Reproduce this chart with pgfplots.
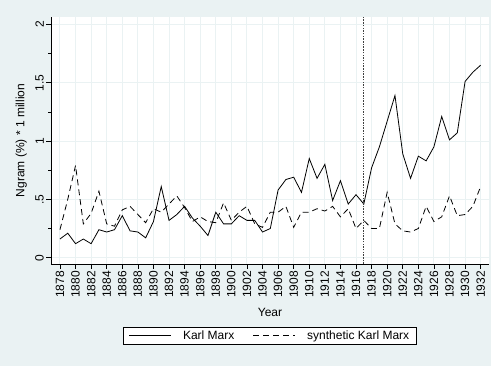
\documentclass[border=0pt]{standalone}
\usepackage{pgfplots}
\pgfplotsset{compat=1.18}
\usepackage{fontspec}
\setmainfont{Liberation Sans}
\definecolor{bgc}{RGB}{234,242,243}
\definecolor{gridc}{RGB}{234,242,243}
\newcommand{\fz}{\fontsize{12}{14}\selectfont}
\begin{document}
\begin{tikzpicture}[font=\fz]
\fill[bgc] (0,0) rectangle (491pt,366pt);
\useasboundingbox (0,0) rectangle (491pt,366pt);
\begin{axis}[
  at={(51pt,102pt)}, anchor=south west,
  scale only axis, width=438pt, height=247pt,
  xmin=1876.85, xmax=1933.07,
  ymin=-0.054, ymax=2.063,
  axis x line*=bottom, axis y line*=left,
  axis line style={-, black, line width=0.7pt},
  axis background/.style={fill=white},
  xtick={1878,1880,...,1932},
  minor x tick num=1,
  ytick={0,0.5,1,1.5,2},
  yticklabels={{\fz 0},{\fz .5},{\fz 1},{\fz 1.5},{\fz 2}},
  minor y tick num=1,
  tick align=outside,
  major tick length=5pt, minor tick length=3pt,
  tick style={black, line width=0.6pt},
  grid=major,
  major grid style={draw=gridc, line width=1pt},
  xticklabel={\fz\pgfmathprintnumber[1000 sep={},assume math mode=true]{\tick}},
  x tick label style={rotate=90, anchor=east, inner sep=2pt},
  y tick label style={rotate=90, anchor=south, inner sep=2pt},
  xlabel={\fz Year},
  ylabel={\fz Ngram (\%) * 1 million},
  xlabel style={yshift=-5pt},
  ylabel style={yshift=3pt},
  legend style={at={(0.5,-0.255)}, anchor=north, legend columns=2,
    draw=black, line width=0.5pt, fill=white, font=\fz,
    inner xsep=5.5pt, inner ysep=1.5pt,
    /tikz/every odd column/.append style={column sep=9.5pt},
    /tikz/every even column/.append style={column sep=16.5pt}},
  legend cell align=left,
  legend image code/.code={\draw[#1] (0pt,0pt) -- (42pt,0pt);},
]
\addplot[black, line width=0.8pt] table {
x y
1878 0.16
1879 0.21
1880 0.12
1881 0.16
1882 0.12
1883 0.24
1884 0.22
1885 0.24
1886 0.36
1887 0.23
1888 0.22
1889 0.17
1890 0.31
1891 0.61
1892 0.32
1893 0.37
1894 0.44
1895 0.34
1896 0.27
1897 0.19
1898 0.39
1899 0.29
1900 0.29
1901 0.36
1902 0.32
1903 0.32
1904 0.22
1905 0.25
1906 0.58
1907 0.67
1908 0.69
1909 0.56
1910 0.85
1911 0.68
1912 0.80
1913 0.49
1914 0.66
1915 0.46
1916 0.54
1917 0.46
1918 0.77
1919 0.95
1920 1.17
1921 1.39
1922 0.89
1923 0.68
1924 0.87
1925 0.83
1926 0.95
1927 1.21
1928 1.01
1929 1.07
1930 1.51
1931 1.59
1932 1.65
};
\addlegendentry{Karl Marx}
\addplot[black, line width=0.8pt, dash pattern=on 6pt off 4pt] table {
x y
1878 0.24
1879 0.50
1880 0.79
1881 0.29
1882 0.38
1883 0.57
1884 0.29
1885 0.27
1886 0.41
1887 0.44
1888 0.37
1889 0.30
1890 0.42
1891 0.39
1892 0.46
1893 0.53
1894 0.43
1895 0.31
1896 0.35
1897 0.31
1898 0.30
1899 0.47
1900 0.32
1901 0.39
1902 0.44
1903 0.29
1904 0.26
1905 0.39
1906 0.39
1907 0.44
1908 0.26
1909 0.39
1910 0.39
1911 0.42
1912 0.40
1913 0.44
1914 0.35
1915 0.42
1916 0.25
1917 0.32
1918 0.25
1919 0.25
1920 0.56
1921 0.29
1922 0.23
1923 0.22
1924 0.25
1925 0.44
1926 0.31
1927 0.35
1928 0.53
1929 0.36
1930 0.37
1931 0.44
1932 0.61
};
\addlegendentry{synthetic Karl Marx}
\addplot[black!75, line width=1pt, dash pattern=on 1.5pt off 1.2pt, forget plot] coordinates {(1917,-0.054) (1917,2.063)};
\end{axis}
\end{tikzpicture}
\end{document}
